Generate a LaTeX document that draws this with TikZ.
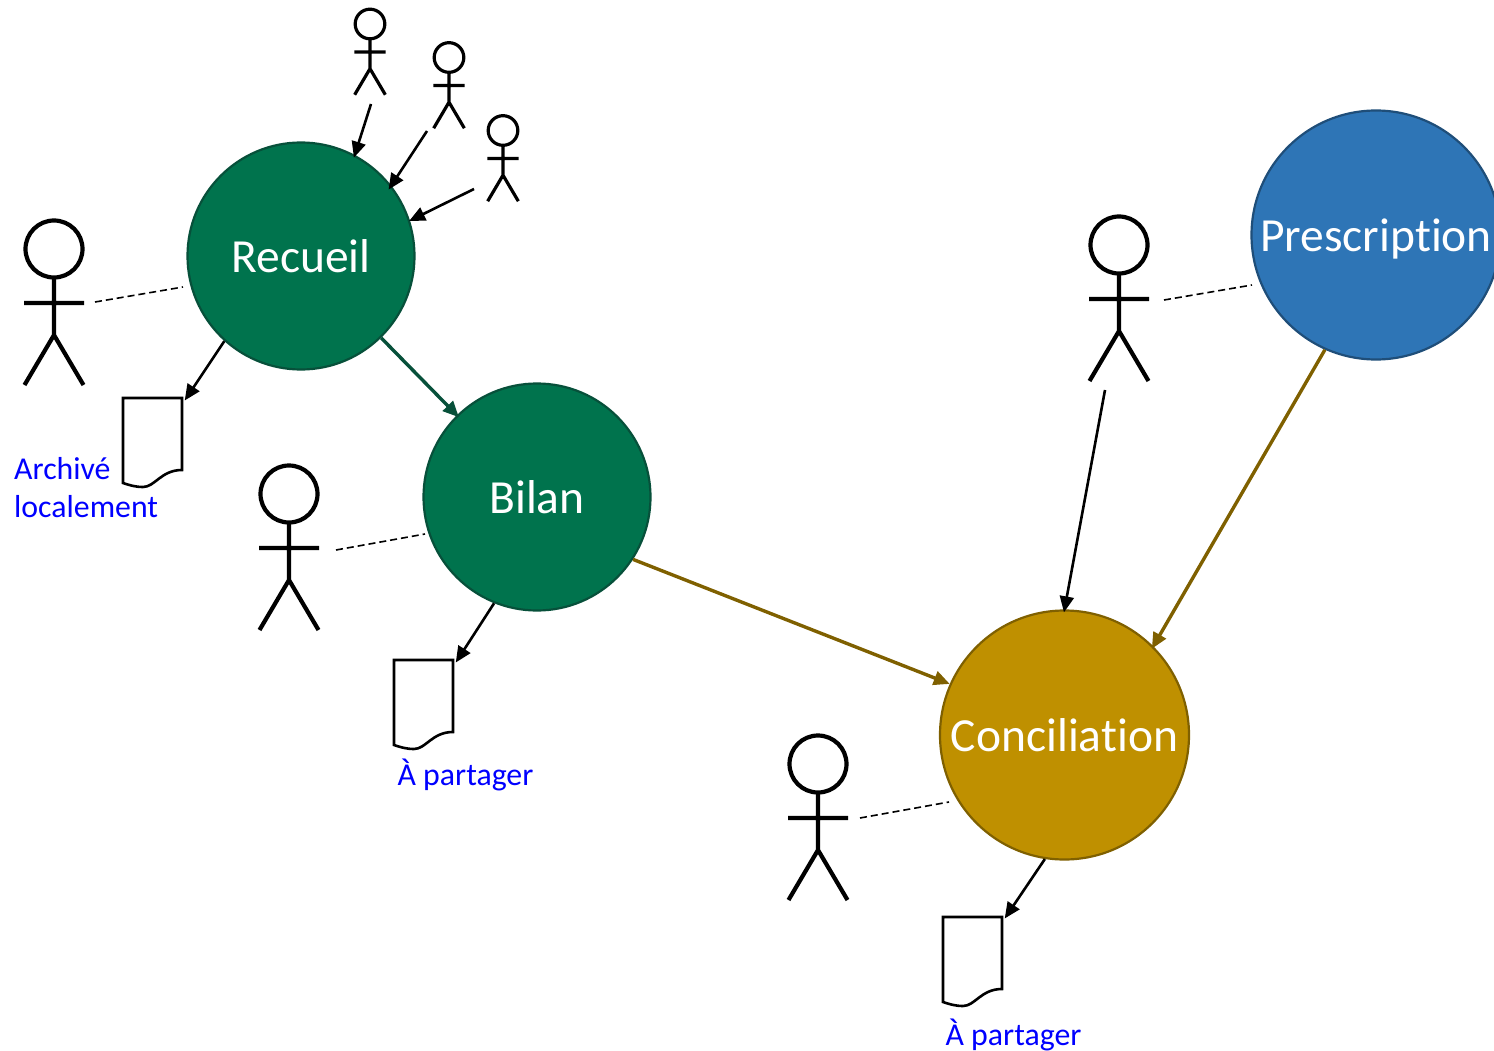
\documentclass[tikz,border=0pt]{standalone}
\usepackage{fontspec}
\setmainfont[Ligatures=NoCommon]{Carlito}
\usetikzlibrary{arrows.meta}
\definecolor{greenfill}{HTML}{00734D}
\definecolor{greenline}{HTML}{07503A}
\definecolor{bluefill}{HTML}{2E75B6}
\definecolor{blueline}{HTML}{1F4E79}
\definecolor{goldfill}{HTML}{BF9000}
\definecolor{goldline}{HTML}{7F6000}
\tikzset{
  stage/.style={circle,draw,line width=2.2pt,inner sep=0pt,text=white,text height=33pt,text depth=0pt,font=\fontsize{47.5}{50}\selectfont},
  greenstage/.style={stage,fill=greenfill,draw=greenline,minimum size=227pt},
  goldstage/.style={stage,fill=goldfill,draw=goldline,minimum size=249pt},
  bluestage/.style={stage,fill=bluefill,draw=blueline,minimum size=249pt},
  flow/.style={-{Triangle[length=16pt,width=14pt]},line width=2.6pt,black,shorten >=-3pt},
  goldflow/.style={flow,goldline,line width=3.4pt},
  greenflow/.style={flow,greenline,line width=3.4pt},
  tie/.style={dashed,dash pattern=on 7pt off 4pt,line width=1.6pt,black},
  bluetext/.style={text=blue,font=\fontsize{31.8}{38}\selectfont,inner sep=0pt},
  docbox/.style={minimum width=59pt,minimum height=72pt,inner sep=0pt,anchor=north west},
  docline/.style={line width=2.6pt,black,line join=miter},
  personline/.style={black,line cap=butt},
  personmark/.style={inner sep=0pt,minimum size=0pt}
}
% #1 name, #2 x, #3 y of head centre, #4 scale, #5 line width
\newcommand{\personfig}[5]{%
  \node[personmark] (#1) at (#2,#3) {};
  \begin{scope}[shift={(#2,#3)},scale=#4]
    \draw[personline,line width=#5] (0,0) circle (28.5);
    \draw[personline,line width=#5] (0,29) -- (0,86) (-30,54) -- (30,54) (-29.5,136) -- (0,86) -- (29.5,136);
  \end{scope}}
% #1 name, #2 x, #3 y of top left corner
\newcommand{\docfig}[3]{%
  \node[docbox] (#1) at (#2,#3) {};
  \draw[docline,shift={(#2,#3)}] (0,0) -- (59,0) -- (59,72)
     .. controls (38,72) and (32,89) .. (20,89)
     .. controls (12,89) and (6,87) .. (0,85) -- cycle;}
\begin{document}
\begin{tikzpicture}[x=1pt,y=-1pt]
\useasboundingbox (0,0) rectangle (1494,1051);
\node[greenstage] (recueil) at (301,256) {Recueil};
\node[greenstage] (bilan) at (537,497) {Bilan};
\node[goldstage] (conc) at (1064.5,735) {Conciliation};
\node[bluestage] (presc) at (1376,235) {Prescription};

\personfig{p1}{54}{249}{1}{4.2pt}
\personfig{p2}{289}{494}{1}{4.2pt}
\personfig{p3}{1119}{245}{1}{4.2pt}
\personfig{p4}{818}{764}{1}{4.2pt}
\personfig{s1}{370}{24}{0.52}{3.2pt}
\personfig{s2}{449}{57.5}{0.52}{3.2pt}
\personfig{s3}{503}{130.5}{0.52}{3.2pt}

\docfig{d1}{123}{398}
\docfig{d2}{394}{660}
\docfig{d3}{943}{917}

\node[bluetext,align=left,anchor=north west] (t1) at (14,457) {Archivé\\localement};
\node[bluetext,anchor=center] (t2) at (465.5,775) {À partager};
\node[bluetext,anchor=center] (t3) at (1013.5,1035) {À partager};

\coordinate (a1) at (371,104);
\coordinate (a2) at (427,131);
\coordinate (a3) at (474,189);
\coordinate (a4) at (1105,390);
\coordinate (c1) at (95,302);
\coordinate (c2) at (336,550);
\coordinate (c3) at (1164,300);
\coordinate (c4) at (860,818);
\coordinate (e1) at (183,287);
\coordinate (e2) at (425,534);
\coordinate (e3) at (1252,285);
\coordinate (e4) at (949,802);

\draw[flow] (a1) -- (recueil.62);
\draw[flow,shorten >=-5pt] (a2) -- (recueil.38);
\draw[flow,shorten >=-1pt] (a3) -- (recueil.18);
\draw[flow] (a4) -- (conc.90);
\draw[flow] (recueil.-132) -- ([shift={(4,0)}]d1.north east);
\draw[flow] (bilan.-112) -- ([shift={(4,0)}]d2.north east);
\draw[flow] (conc.-99) -- ([shift={(4,-1)}]d3.north east);
\draw[greenflow] (recueil) -- (bilan);
\draw[goldflow,shorten >=0pt] (bilan.-33) -- (conc.156);
\draw[goldflow] (presc.-114) -- (conc.45);
\draw[tie] (c1) -- (e1);
\draw[tie] (c2) -- (e2);
\draw[tie] (c3) -- (e3);
\draw[tie] (c4) -- (e4);
\end{tikzpicture}
\end{document}
